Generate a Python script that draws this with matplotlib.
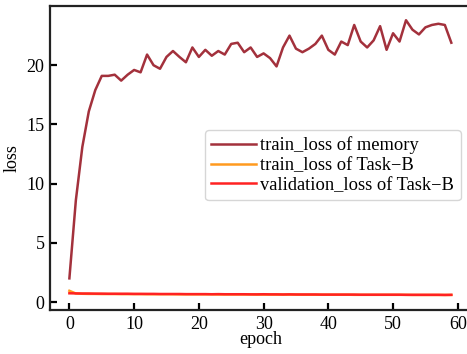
import matplotlib.pyplot as plt

epochs = list(range(60))

memory_train = [
    2.0, 8.6, 13.1, 16.1, 17.9, 19.1, 19.1, 19.2, 18.7, 19.2,
    19.6, 19.4, 20.9, 20.0, 19.7, 20.7, 21.2, 20.7, 20.25, 21.5,
    20.7, 21.3, 20.8, 21.2, 20.9, 21.8, 21.9, 21.1, 21.5, 20.7,
    21.0, 20.6, 19.9, 21.5, 22.5, 21.4, 21.1, 21.4, 21.8, 22.5,
    21.3, 20.9, 22.0, 21.7, 23.4, 22.0, 21.5, 22.1, 23.3, 21.3,
    22.7, 22.0, 23.8, 23.0, 22.6, 23.2, 23.4, 23.5, 23.4, 21.9,
]

taskb_train = [
    0.95, 0.72, 0.70, 0.69, 0.69, 0.68, 0.68, 0.68, 0.67, 0.67,
    0.67, 0.67, 0.66, 0.66, 0.66, 0.66, 0.66, 0.65, 0.65, 0.65,
    0.65, 0.65, 0.65, 0.64, 0.64, 0.64, 0.64, 0.64, 0.64, 0.63,
    0.63, 0.63, 0.63, 0.63, 0.63, 0.63, 0.62, 0.62, 0.62, 0.62,
    0.62, 0.62, 0.62, 0.62, 0.61, 0.61, 0.61, 0.61, 0.61, 0.61,
    0.61, 0.61, 0.61, 0.60, 0.60, 0.60, 0.60, 0.60, 0.60, 0.60,
]

taskb_val = [
    0.74, 0.73, 0.72, 0.72, 0.71, 0.71, 0.70, 0.70, 0.70, 0.70,
    0.69, 0.69, 0.69, 0.69, 0.68, 0.68, 0.68, 0.68, 0.67, 0.67,
    0.67, 0.67, 0.66, 0.67, 0.66, 0.66, 0.66, 0.66, 0.65, 0.65,
    0.66, 0.65, 0.65, 0.64, 0.65, 0.64, 0.64, 0.64, 0.64, 0.63,
    0.63, 0.63, 0.63, 0.63, 0.63, 0.62, 0.62, 0.62, 0.62, 0.62,
    0.62, 0.62, 0.61, 0.61, 0.61, 0.61, 0.61, 0.61, 0.60, 0.61,
]

plt.rcParams["font.family"] = ["Liberation Serif", "DejaVu Serif"]
plt.rcParams["font.size"] = 13

fig = plt.figure(figsize=(4.67, 3.54), dpi=100)
ax = fig.add_axes([0.107, 0.124, 0.901, 0.859])

ax.plot(epochs, memory_train, color="#a3313c", lw=1.8, label="train_loss of memory")
ax.plot(epochs, taskb_train, color="#ff9a1f", lw=1.8, label="train_loss of Task\u2212B")
ax.plot(epochs, taskb_val, color="#ff2222", lw=1.8, label="validation_loss of Task\u2212B")

ax.set_xlim(-3.0, 62.0)
ax.set_ylim(-0.68, 25.0)
ax.set_xticks([0, 10, 20, 30, 40, 50, 60])
ax.set_yticks([0, 5, 10, 15, 20])
ax.tick_params(direction="in", length=5, width=1.6, labelsize=13, pad=4)
for side in ["left", "bottom", "top", "right"]:
    ax.spines[side].set_linewidth(1.6)
    ax.spines[side].set_color("#222222")

ax.set_xlabel("epoch", fontsize=13, labelpad=-1)
ax.set_ylabel("loss", fontsize=13, labelpad=4)

leg = ax.legend(loc="upper left", bbox_to_anchor=(0.439, 0.633),
                bbox_transform=fig.transFigure, borderaxespad=0,
                fontsize=13.3, frameon=True, fancybox=True,
                handlelength=2.4, handletextpad=0.25, labelspacing=0.15,
                borderpad=0.35)
leg.get_frame().set_edgecolor("#cccccc")
leg.get_frame().set_linewidth(1.0)

fig.savefig("out.png", dpi=100)
